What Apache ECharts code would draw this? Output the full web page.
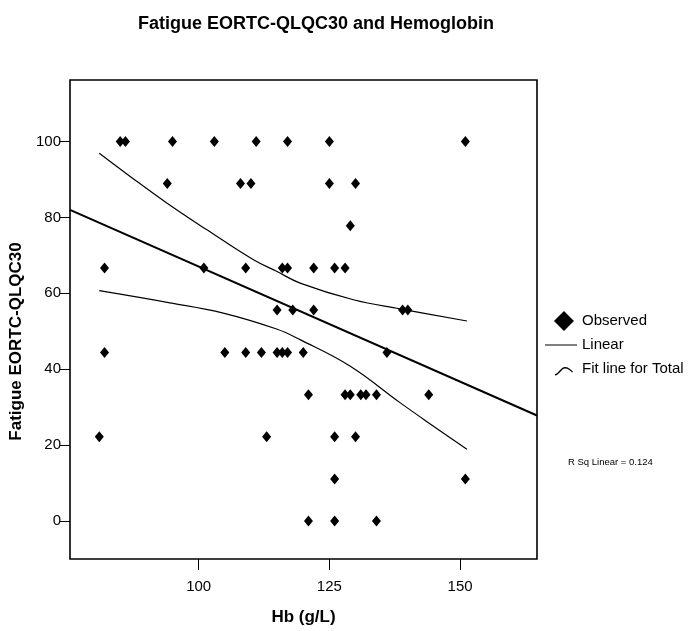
<!DOCTYPE html>
<html>
<head>
<meta charset="utf-8">
<script src="https://cdn.jsdelivr.net/npm/echarts@6/dist/echarts.min.js"></script>
<style>html,body{margin:0;padding:0;background:#fff}#c{width:690px;height:631px}</style>
</head>
<body>
<div id="c"></div>
<script>
// Observed points (Hb g/L, Fatigue score)
var obsHb = [85,86,95,103,111,117,125,151,
             94,108,110,125,130,
             129,
             82,101,109,116,117,122,126,128,
             115,118,122,139,140,
             82,105,109,112,115,116,117,120,136,
             121,128,129,131,132,134,144,
             81,113,126,130,
             126,151,
             121,126,134];
var obsFatigue = [100,100,100,100,100,100,100,100,
                  88.9,88.9,88.9,88.9,88.9,
                  77.8,
                  66.7,66.7,66.7,66.7,66.7,66.7,66.7,66.7,
                  55.6,55.6,55.6,55.6,55.6,
                  44.4,44.4,44.4,44.4,44.4,44.4,44.4,44.4,44.4,
                  33.3,33.3,33.3,33.3,33.3,33.3,33.3,
                  22.2,22.2,22.2,22.2,
                  11.1,11.1,
                  0,0,0];
// Linear fit line
var linearHb = [75.4, 164.7];
var linearFatigue = [82.0, 27.8];
// Confidence band curves
var upperHb = [81.0, 86.9, 93.9, 101.5, 110.4, 114.9, 119.4, 129.6, 138.5, 151.3];
var upperFatigue = [96.9, 90.8, 83.8, 76.8, 68.9, 65.8, 62.7, 58.3, 55.9, 52.7];
var lowerHb = [81.0, 94.5, 104.7, 114.9, 119.4, 129.0, 138.5, 144.9, 151.3];
var lowerFatigue = [60.7, 57.5, 54.8, 50.6, 47.8, 40.8, 31.2, 25.0, 18.9];
// Ticks
var xTicks = [100, 125, 150];
var yTicks = [0, 20, 40, 60, 80, 100];

function zip(a, b) { return a.map(function (v, i) { return [v, b[i]]; }); }

var font = 'Liberation Sans, Arial, sans-serif';
var dots = 'M0,0 h0.01 v0.01 h-0.01 Z M32,20 h0.01 v0.01 h-0.01 Z ';
var chart = echarts.init(document.getElementById('c'), null, {renderer: 'canvas'});
chart.setOption({
  animation: false,
  backgroundColor: '#fff',
  textStyle: {fontFamily: font, color: '#000'},
  title: {
    text: 'Fatigue EORTC-QLQC30 and Hemoglobin',
    left: 311, top: 10, textAlign: 'center',
    textStyle: {fontFamily: font, fontSize: 18, fontWeight: 'bold', color: '#000'}
  },
  grid: {
    left: 70, right: 153, top: 80, bottom: 71,
    show: true, borderColor: '#000', borderWidth: 1.6, backgroundColor: '#fff'
  },
  xAxis: {
    type: 'value', min: 75.4, max: 164.7,
    name: 'Hb (g/L)', nameLocation: 'middle', nameGap: 50,
    nameTextStyle: {fontFamily: font, fontSize: 17, fontWeight: 'bold', color: '#000'},
    axisLine: {show: false, onZero: false},
    splitLine: {show: false},
    axisTick: {show: true, length: 11, customValues: xTicks, lineStyle: {color: '#000', width: 1}},
    axisLabel: {customValues: xTicks, margin: 20, fontFamily: font, fontSize: 15, color: '#000'}
  },
  yAxis: {
    type: 'value', min: -10, max: 116.2,
    name: 'Fatigue EORTC-QLQC30', nameLocation: 'middle', nameGap: 40, nameRotate: 90,
    nameTextStyle: {fontFamily: font, fontSize: 17, fontWeight: 'bold', color: '#000', padding: [0, 44, 0, 0]},
    axisLine: {show: false, onZero: false},
    splitLine: {show: false},
    axisTick: {show: true, length: 10, customValues: yTicks, lineStyle: {color: '#000', width: 1}},
    axisLabel: {customValues: yTicks, margin: 9, fontFamily: font, fontSize: 15, color: '#000'}
  },
  legend: {
    orient: 'vertical', left: 540, top: 306, itemGap: 4, itemWidth: 32, itemHeight: 20,
    textStyle: {fontFamily: font, fontSize: 15, color: '#000'},
    data: [
      {name: 'Observed', icon: 'path://' + dots + 'M19,0 L29,10 L19,20 L9,10 Z',
       itemStyle: {color: '#000', borderWidth: 0}},
      {name: 'Linear', icon: 'path://' + dots + 'M0,9.4 H32 V10.6 H0 Z',
       itemStyle: {color: '#000', borderWidth: 0}},
      {name: 'Fit line for Total',
       icon: 'path://' + dots + 'M10,15 C13,15 16,8 20,8 C23,8 25,10 28,12.5 L27.2,13.5 C25,11.2 23,9.4 20,9.4 C16.8,9.4 13.8,16.4 10,16.4 Z',
       itemStyle: {color: '#000', borderWidth: 0}}
    ]
  },
  graphic: [{
    type: 'text', left: 568, top: 457,
    style: {text: 'R Sq Linear = 0.124', font: '9.5px ' + font, fill: '#000'}
  }],
  series: [
    {
      name: 'Linear', type: 'line', data: zip(linearHb, linearFatigue),
      symbol: 'none', lineStyle: {color: '#000', width: 2}, z: 2
    },
    {
      name: 'Fit line for Total', type: 'line', data: zip(upperHb, upperFatigue), smooth: 0.4,
      symbol: 'none', lineStyle: {color: '#000', width: 1.2}, z: 2
    },
    {
      name: 'Fit line for Total', type: 'line', data: zip(lowerHb, lowerFatigue), smooth: 0.4,
      symbol: 'none', lineStyle: {color: '#000', width: 1.2}, z: 2
    },
    {
      name: 'Observed', type: 'scatter', data: zip(obsHb, obsFatigue),
      symbol: 'diamond', symbolSize: [9, 11], itemStyle: {color: '#000', borderWidth: 0, opacity: 1}, z: 3
    }
  ]
});
</script>
</body>
</html>
